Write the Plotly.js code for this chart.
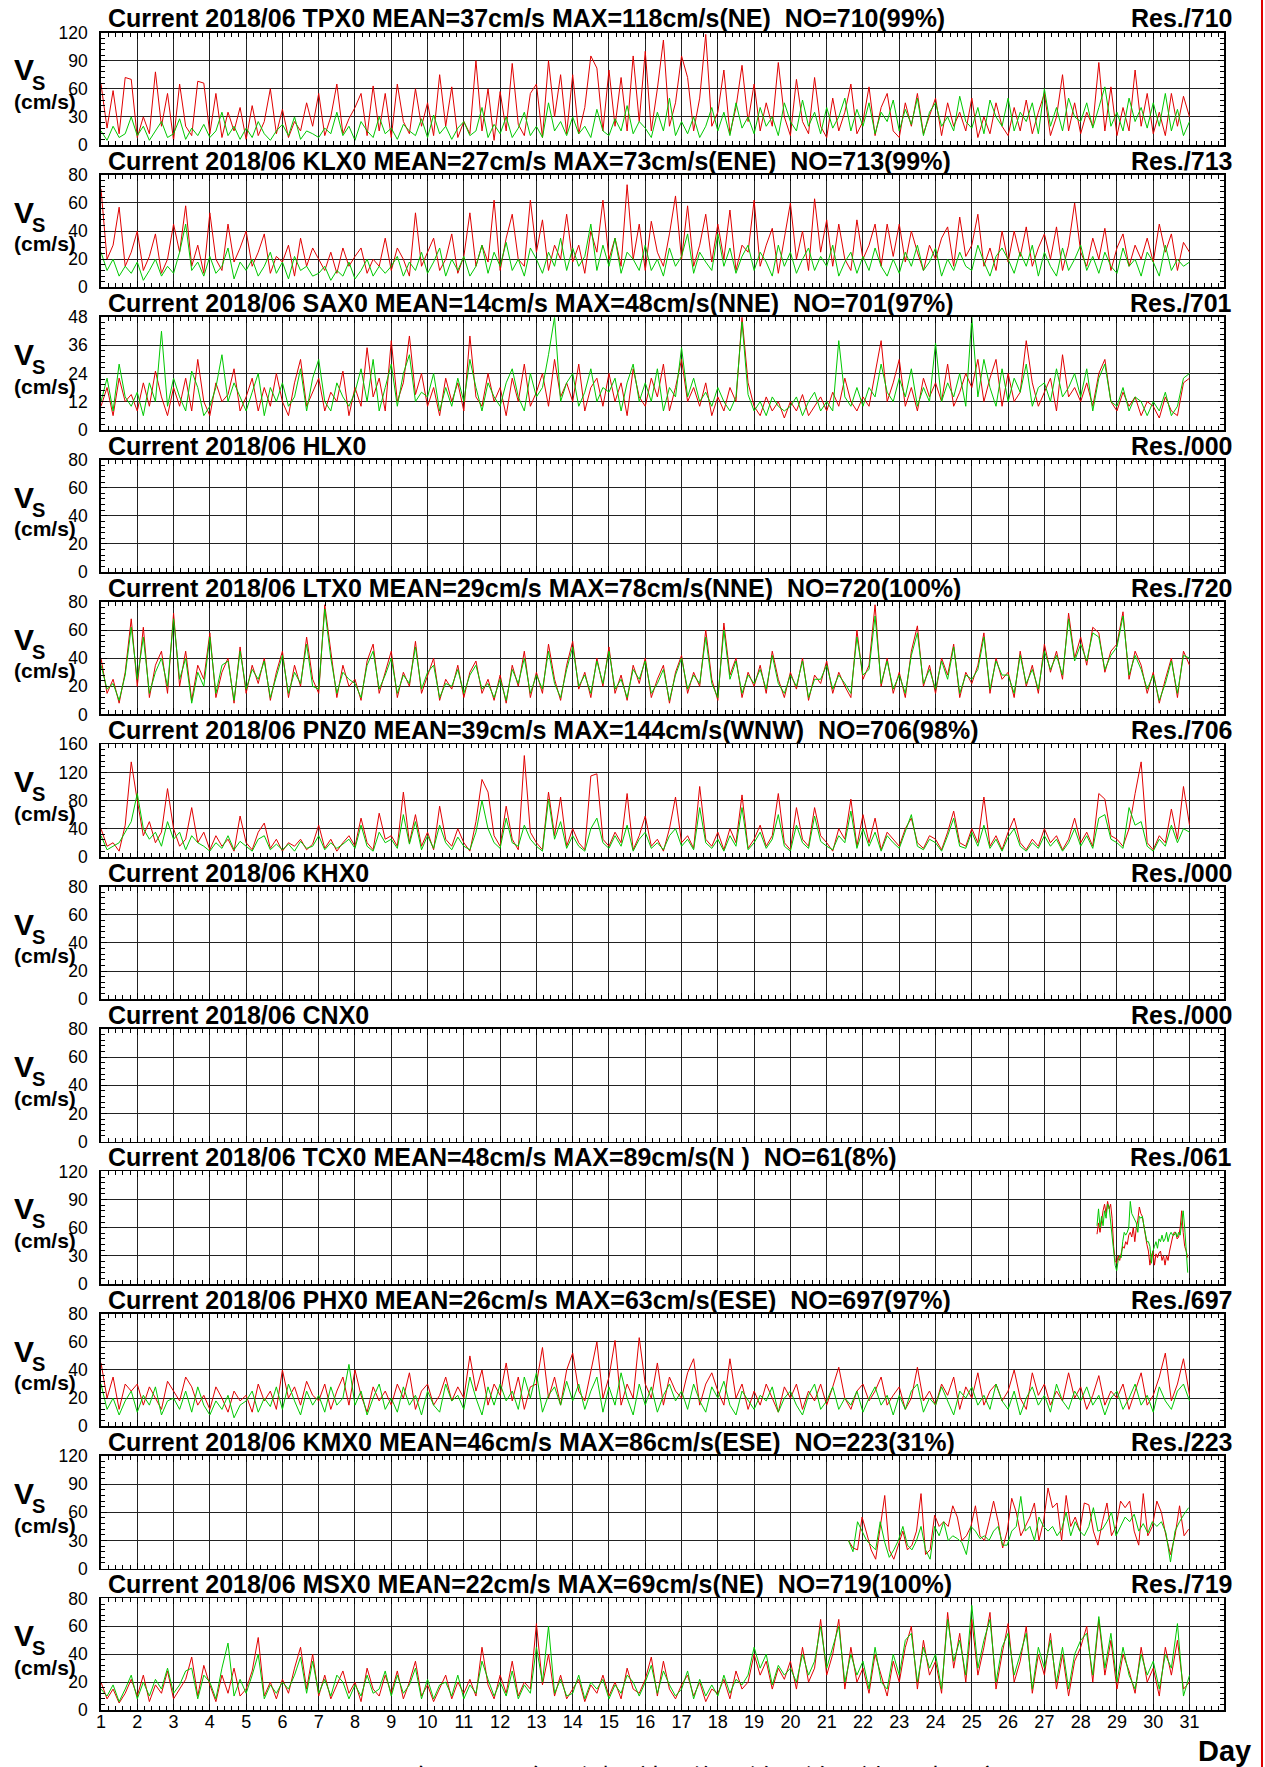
<!DOCTYPE html>
<html><head><meta charset="utf-8">
<script src="https://cdn.plot.ly/plotly-3.0.1.min.js"></script>
<style>html,body{margin:0;padding:0;background:#fff;}#chart{width:1265px;height:1767px;}</style>
</head><body><div id="chart"></div>
<script>
// ---- data (cm/s), full-month series sampled every 4 h starting day 1.0 ----
const tpxRed = [
65,18,58,12,72,70, 8,30,12,78,20,55, 5,65,20,10,68,66, 12,55,8,35,15,40, 6,42,10,25,60,12,
38,8,25,15,45,20, 55,10,30,65,12,28, 40,55,10,63,15,55, 8,65,25,12,60,20, 45,10,75,20,62,8,
25,12,90,15,60,5, 57,15,87,22,10,55, 65,8,90,30,75,12, 75,12,40,95,82,15, 80,20,72,15,95,25,
100,15,60,112,20,45, 95,72,15,50,118,20, 35,80,12,40,85,25, 65,15,45,20,88,30, 10,70,25,12,72,20,
8,50,15,35,65,12, 25,62,10,40,55,15, 8,45,20,55,12,30, 50,10,45,20,35,15, 50,8,30,12,45,20,
10,40,15,48,12,35, 55,10,30,75,15,45, 12,35,20,88,15,62, 10,40,15,80,20,55, 12,35,10,55,20,52, 30];
const tpxGreen = [
15,5,20,8,12,30, 10,20,5,15,25,8, 12,28,6,18,10,22, 8,15,35,10,20,6, 18,8,25,12,5,15,
22,10,30,6,15,12, 8,18,12,35,10,20, 5,25,15,8,30,12, 18,6,22,15,10,28, 8,32,12,20,6,18,
25,10,15,40,8,22, 12,30,8,18,35,10, 20,8,45,15,25,10, 30,12,20,8,38,15, 10,28,15,42,12,25,
18,8,35,15,50,10, 25,12,30,8,20,40, 15,35,10,45,18,30, 12,40,20,30,10,45, 25,15,48,20,35,12,
40,18,30,50,15,38, 20,45,12,35,25,48, 15,38,22,50,10,35, 45,20,30,15,52,25, 18,40,12,48,30,20,
50,15,35,25,45,12, 60,20,40,15,50,30, 25,45,18,40,62,20, 35,15,50,25,40,18, 45,20,55,15,38,10, 25];
const klxRed = [
70,20,30,57,15,25, 40,12,22,38,10,20, 45,25,58,15,30,10, 53,20,12,45,18,28, 40,15,25,38,10,22,
18,30,8,35,15,28, 20,12,25,10,28,15, 22,28,10,20,15,35, 12,28,20,8,53,15, 25,35,12,20,38,10,
22,53,15,30,18,62, 12,35,52,20,15,62, 25,48,12,30,20,52, 18,30,10,40,25,62, 20,35,15,73,20,45,
12,47,25,15,38,65, 20,58,15,30,52,18, 45,20,55,12,30,25, 62,15,30,42,10,35, 60,20,40,12,63,25,
48,15,45,20,12,48, 20,30,45,15,45,22, 45,18,40,25,12,30, 20,35,43,15,50,22, 30,52,15,28,12,40,
18,40,22,43,15,28, 38,20,43,12,30,60, 25,15,35,20,42,12, 28,38,15,30,20,35, 18,45,25,38,12,32, 25];
const klxGreen = [
25,12,20,8,15,10, 18,5,12,20,8,15, 10,25,45,12,18,8, 22,10,15,28,6,18, 12,20,8,15,25,10,
18,6,22,12,15,8, 10,15,5,12,8,18, 6,12,20,8,15,10, 15,22,8,18,12,25, 10,18,28,8,20,12,
22,8,15,30,10,25, 15,32,12,20,8,28, 20,10,25,15,35,12, 28,15,22,45,12,30, 15,35,10,25,20,12,
30,12,20,8,28,15, 22,38,10,25,18,12, 38,15,28,10,22,30, 12,25,18,8,30,15, 25,10,20,28,12,22,
15,30,8,18,25,10, 22,12,28,15,8,20, 10,25,15,30,12,18, 28,8,20,12,25,15, 12,30,18,8,22,28,
20,10,25,15,30,8, 25,15,8,28,12,20, 30,12,22,10,25,15, 10,28,15,20,8,25, 18,8,30,12,20,15, 18];
const saxRed = [
10,18,6,22,12,15, 8,20,10,25,14,6, 18,10,22,8,30,12, 6,20,12,15,26,8, 14,22,8,18,10,24,
12,6,20,30,10,16, 22,8,16,12,25,6, 18,10,35,14,22,8, 38,12,20,40,15,24, 10,18,6,22,12,20,
8,40,14,10,24,12, 18,6,22,12,28,10, 16,24,10,30,14,20, 12,28,8,18,22,10, 24,12,20,6,26,14,
10,22,14,28,8,18, 30,12,18,10,20,6, 14,8,18,12,48,20, 10,6,14,8,12,5, 12,8,15,6,10,14,
8,16,10,22,12,8, 14,10,24,38,12,20, 30,10,18,8,22,14, 20,12,28,10,16,24, 18,30,12,22,30,10,
24,12,16,38,20,10, 16,22,8,32,14,18, 12,20,10,24,30,12, 8,16,10,14,6,12, 10,5,14,8,6,20, 22];
const saxGreen = [
12,22,8,28,14,10, 16,6,20,12,42,10, 22,14,8,25,18,6, 10,18,32,12,20,14, 8,16,24,6,18,12,
20,10,14,26,8,22, 30,12,8,20,14,10, 16,26,12,30,8,18, 28,10,24,32,12,16, 14,24,8,18,10,22,
12,30,18,8,20,14, 10,20,26,14,8,24, 14,18,32,48,12,20, 24,10,16,26,12,18, 16,22,8,20,28,12,
20,12,26,8,18,14, 35,14,22,12,16,10, 18,12,8,14,46,15, 8,12,6,14,10,8, 10,14,6,12,16,8,
12,8,38,14,10,18, 10,18,14,28,16,12, 22,14,26,10,18,12, 37,12,20,14,24,10, 48,14,30,18,10,26,
12,22,16,28,10,18, 20,12,26,14,18,24, 14,26,8,22,28,12, 10,18,8,14,12,6, 12,8,16,6,10,22, 24];
const ltxRed = [
40,15,25,8,30,68, 20,62,12,35,45,15, 72,20,45,10,35,25, 58,12,30,40,8,48, 15,35,22,40,10,30,
45,12,35,20,55,25, 15,78,45,12,35,20, 25,10,38,50,15,30, 45,12,30,20,52,15, 28,40,10,25,18,35,
12,30,38,15,25,10, 28,8,35,20,45,12, 30,15,50,25,10,35, 52,18,30,12,40,20, 48,15,28,10,35,22,
40,12,25,35,8,30, 42,15,30,20,60,25, 10,65,28,40,12,30, 20,35,15,45,25,12, 30,18,40,10,28,22,
38,15,30,20,12,60, 25,35,78,20,40,15, 30,12,45,63,20,35, 15,40,28,50,12,30, 22,35,58,15,40,25,
30,12,45,20,35,15, 50,30,45,25,72,40, 55,35,62,58,30,45, 50,73,25,45,35,15, 30,8,25,40,12,45, 35];
const ltxGreen = [
35,18,22,10,28,62, 25,55,15,30,40,20, 68,25,40,8,30,20, 55,15,35,38,10,45, 18,32,25,38,12,28,
42,15,30,22,50,20, 18,75,40,15,30,25, 22,12,35,45,18,28, 40,15,28,22,48,18, 30,35,12,22,20,32,
15,28,35,18,22,12, 25,10,32,22,40,15, 28,18,45,22,12,32, 48,20,28,15,38,22, 45,18,25,12,32,25,
38,15,22,32,10,28, 40,18,28,22,55,22, 12,60,25,38,15,28, 22,32,18,42,22,15, 28,20,38,12,25,25,
35,18,28,22,15,55, 28,32,70,22,38,18, 28,15,42,58,22,32, 18,38,25,48,15,28, 25,32,55,18,38,28,
28,15,42,22,32,18, 45,32,42,28,68,38, 50,38,58,55,32,42, 48,70,28,42,32,18, 28,10,22,38,15,42, 40];
const pnzRed = [
40,15,20,8,45,135, 80,30,50,20,35,97, 40,15,25,70,20,35, 10,30,15,25,8,58, 20,10,35,48,12,25,
8,20,15,25,10,18, 45,12,25,8,20,30, 15,55,20,10,62,25, 30,15,92,20,60,15, 35,10,72,25,15,40,
20,8,50,110,92,30, 15,72,25,10,144,35, 20,10,92,30,85,15, 40,20,10,115,118,25, 15,35,20,90,10,30,
58,15,25,8,40,85, 20,30,12,100,25,15, 35,10,40,20,88,12, 25,45,15,30,90,20, 10,70,25,15,70,30,
20,8,40,25,82,15, 60,20,55,10,35,25, 15,40,55,20,12,30, 25,10,35,65,20,15, 40,20,85,15,30,10,
35,55,20,10,25,15, 40,20,30,10,25,55, 20,35,15,90,82,30, 25,15,40,90,135,20, 10,30,20,68,25,100, 45];
const pnzGreen = [
30,10,15,20,35,50, 90,40,25,35,15,50, 25,35,10,30,20,15, 8,20,12,30,10,22, 15,8,25,30,10,18,
10,18,8,22,12,15, 30,10,20,12,18,25, 12,45,15,8,35,20, 25,12,60,18,50,10, 30,12,45,20,10,28,
15,10,35,80,40,20, 12,55,20,15,45,25, 15,8,82,25,50,12, 30,15,8,40,55,20, 12,30,15,45,8,25,
35,12,20,10,30,40, 15,25,10,70,20,12, 25,8,30,15,70,10, 20,35,12,25,60,15, 8,45,20,12,58,22,
15,10,30,20,65,12, 40,15,35,8,30,20, 12,35,60,15,10,25, 20,8,30,55,15,12, 35,15,45,12,25,8,
28,40,15,8,20,12, 30,15,25,8,20,40, 15,30,12,55,60,25, 20,12,70,45,50,15, 8,25,15,45,20,40, 35];
const phxRed = [
45,20,35,12,30,25, 30,15,28,20,12,32, 25,18,35,28,15,22, 12,28,20,10,25,18, 22,10,30,18,25,12,
40,20,28,15,32,22, 18,30,12,25,35,15, 40,22,10,28,18,25, 15,30,20,38,12,25, 30,15,22,35,18,28,
20,50,25,40,15,30, 22,45,18,35,12,28, 30,56,20,35,15,40, 52,25,18,40,60,20, 35,61,15,30,20,63,
30,20,45,15,35,25, 20,38,48,15,30,38, 25,15,48,20,30,12, 25,15,30,20,10,28, 20,30,12,25,18,30,
15,28,42,20,12,25, 30,18,25,35,15,22, 28,12,20,42,18,25, 15,30,22,35,12,28, 20,38,15,25,30,18,
25,40,20,12,38,22, 30,15,25,18,38,20, 28,12,22,36,15,25, 20,30,12,25,38,15, 22,35,52,18,30,48, 22];
const phxGreen = [
30,12,20,8,18,25, 10,22,15,28,8,18, 20,12,25,10,28,15, 8,18,12,22,6,15, 18,25,10,20,14,28,
12,30,18,8,25,15, 22,10,28,15,20,44, 15,25,8,20,30,12, 20,10,28,15,22,8, 25,15,10,30,18,22,
12,35,20,8,28,15, 30,18,25,12,35,20, 38,10,22,28,15,32, 18,30,12,25,35,10, 28,15,38,20,8,30,
15,28,10,22,30,18, 25,12,30,18,10,28, 20,32,15,8,25,18, 12,22,18,28,10,20, 25,15,8,22,30,12,
18,28,12,20,15,25, 10,20,28,15,22,8, 22,12,25,30,10,20, 15,28,18,8,25,20, 28,15,22,12,30,18,
12,25,8,20,28,15, 22,10,30,18,12,25, 18,28,15,22,8,20, 25,12,20,30,15,22, 10,28,18,12,25,30, 18];
const msxRed = [
20,8,15,5,12,22, 10,25,6,18,12,28, 8,15,22,38,10,32, 18,6,25,12,30,10, 15,28,52,10,20,8,
22,12,30,45,15,40, 10,25,8,18,28,12, 20,6,30,15,10,25, 12,28,8,20,35,10, 18,6,15,25,8,20,
12,22,10,45,18,8, 25,12,35,10,20,15, 62,18,40,10,25,8, 15,22,6,18,12,25, 10,20,8,30,15,12,
22,38,10,35,15,8, 18,25,10,20,6,15, 12,22,8,28,15,20, 40,25,35,15,30,22, 35,15,45,20,30,65,
25,40,65,15,45,20, 30,12,40,25,10,35, 20,45,60,15,50,25, 35,12,70,30,55,20, 65,25,45,70,15,40,
62,20,35,60,12,40, 25,55,15,40,10,35, 45,60,20,65,25,50, 15,40,28,12,45,20, 30,10,45,25,50,15, 20];
const msxGreen = [
15,10,18,6,15,25, 8,20,10,22,15,30, 12,18,28,30,8,25, 20,8,30,48,10,22, 12,25,40,8,18,12,
20,15,25,38,12,35, 12,22,10,25,20,8, 18,10,25,12,15,28, 10,25,12,18,30,8, 22,8,18,20,10,25,
8,18,12,35,22,10, 20,10,28,8,18,12, 45,20,60,12,22,10, 12,25,8,20,15,22, 8,18,12,25,20,10,
20,32,12,28,18,10, 15,28,8,22,10,18, 10,25,12,22,18,25, 45,30,40,18,32,25, 30,20,40,25,35,60,
30,45,60,20,40,25, 35,15,45,20,15,40, 25,50,55,20,45,30, 40,15,65,35,50,25, 75,30,50,65,20,45,
55,25,40,55,15,45, 30,50,20,45,15,40, 50,55,25,67,30,55, 20,45,25,15,40,25, 35,15,40,30,62,10, 25];
// partial records
const tcxRed = [53,65,55,68,78,85,75,88,80,85,70,40,25,22,30,25,33,40,38,45,42,52,55,50,60,45,60,68,82,75,
72,62,48,42,35,20,30,35,20,32,28,33,35,25,30,20,30,25,35,45,50,55,55,48,50,60,78,55,40,35,28];
const tcxGreen = [62,80,60,72,62,78,70,85,82,65,50,35,20,14,25,30,28,45,55,52,55,60,88,75,72,68,65,55,72,70,
72,62,55,45,45,40,22,35,40,45,38,48,45,52,45,48,55,45,52,55,52,52,55,50,55,52,65,78,60,40,12];
const kmxRed = [30,22,20,55,38,20,10,45,78,20,10,25,40,20,25,40,80,15,20,57,45,50,45,67,55,30,35,45,67,35,
30,50,72,50,22,40,75,60,35,45,55,70,30,50,86,65,70,30,78,45,55,40,70,68,40,25,50,70,35,45,
72,65,72,40,25,80,35,45,72,60,35,15,35,67,35,42];
const kmxGreen = [30,18,50,40,30,25,20,50,28,12,20,30,45,25,20,30,45,20,10,45,35,50,30,35,32,28,15,45,40,32,
35,30,40,45,25,25,40,45,77,40,45,30,55,45,40,45,35,42,60,35,50,40,35,45,65,40,42,50,60,35,
45,55,50,58,40,48,38,50,45,50,38,7,40,50,58,65];

const stationNames = ['TPX0','KLX0','SAX0','HLX0','LTX0','PNZ0','KHX0','CNX0','TCX0','PHX0','KMX0','MSX0'];
const statText = [
 'MEAN=37cm/s MAX=118cm/s(NE)\u00a0 NO=710(99%)',
 'MEAN=27cm/s MAX=73cm/s(ENE)\u00a0 NO=713(99%)',
 'MEAN=14cm/s MAX=48cm/s(NNE)\u00a0 NO=701(97%)',
 '',
 'MEAN=29cm/s MAX=78cm/s(NNE)\u00a0 NO=720(100%)',
 'MEAN=39cm/s MAX=144cm/s(WNW)\u00a0 NO=706(98%)',
 '', '',
 'MEAN=48cm/s MAX=89cm/s(N\u00a0)\u00a0 NO=61(8%)',
 'MEAN=26cm/s MAX=63cm/s(ESE)\u00a0 NO=697(97%)',
 'MEAN=46cm/s MAX=86cm/s(ESE)\u00a0 NO=223(31%)',
 'MEAN=22cm/s MAX=69cm/s(NE)\u00a0 NO=719(100%)'];
const resText = ['710','713','701','000','720','706','000','000','061','697','223','719'];
const yMax = [120,80,48,80,80,160,80,80,120,80,120,80];
const yStep = [30,20,12,20,20,40,20,20,30,20,30,20];
const redSeries = [tpxRed,klxRed,saxRed,null,ltxRed,pnzRed,null,null,tcxRed,phxRed,kmxRed,msxRed];
const greenSeries = [tpxGreen,klxGreen,saxGreen,null,ltxGreen,pnzGreen,null,null,tcxGreen,phxGreen,kmxGreen,msxGreen];
const startDay = [1,1,1,1,1,1,1,1,28.45,1,21.6,1];
const stepDay = [4/24,4/24,4/24,4/24,4/24,4/24,4/24,4/24,1/24,4/24,3/24,4/24];
const captionText = '圖 4.2　2018 年 6 月　各　測　站　海　流　流　速　時　序　圖';

// ---- layout geometry ----
const W = 1265, Hpx = 1767;
const M = {l:101, r:41, t:32, b:57};
const plotW = W - M.l - M.r, plotH = Hpx - M.t - M.b;
const PITCH = 142.36, PH = 112.5, TOP0 = 0.5;
const FONT = 'Liberation Sans, Arial, Helvetica, sans-serif';
const px2x = p => (p - M.l) / plotW;
const py2y = p => 1 - (p - M.t) / plotH;

const traces = [];
const layout = {
  width: W, height: Hpx, margin: M, showlegend: false,
  paper_bgcolor: '#fff', plot_bgcolor: '#fff',
  font: {family: FONT, color: '#000'},
  annotations: [], shapes: []
};

for (let i = 0; i < 12; i++) {
  const n = i + 1, sfx = n === 1 ? '' : String(n);
  const topPx = M.t + TOP0 + i * PITCH;
  const d0 = Math.max(0, py2y(topPx + PH)), d1 = Math.min(1, py2y(topPx));
  const xa = 'x' + sfx, ya = 'y' + sfx;
  layout['xaxis' + sfx] = {
    domain: [0, 1], anchor: ya, range: [1, 31.95], tick0: 1, dtick: 1,
    showgrid: true, gridcolor: '#222', gridwidth: 1, zeroline: false,
    ticks: 'inside', ticklen: 6, tickcolor: '#000', tickwidth: 1,
    showline: true, linecolor: '#000', linewidth: 1.8, mirror: 'allticks',
    showticklabels: n === 12, tickfont: {size: 18, color: '#000', family: FONT},
    ticklabelstandoff: -5,
    minor: {tick0: 1, dtick: 0.2, ticks: 'inside', ticklen: 4, tickcolor: '#000', tickwidth: 1, showgrid: false},
    fixedrange: true
  };
  layout['yaxis' + sfx] = {
    domain: [d0, d1], anchor: xa, range: [0, yMax[i]], tick0: 0, dtick: yStep[i],
    showgrid: true, gridcolor: '#222', gridwidth: 1, zeroline: false,
    ticks: 'inside', ticklen: 6, tickcolor: '#000', tickwidth: 1,
    showline: true, linecolor: '#000', linewidth: 1.8, mirror: 'allticks',
    tickfont: {size: 17.5, color: '#000', family: FONT}, ticklabelstandoff: 8,
    minor: {tick0: 0, dtick: yStep[i] / 5, ticks: 'inside', ticklen: 4, tickcolor: '#000', tickwidth: 1, showgrid: false},
    fixedrange: true
  };
  const mk = (arr, color) => ({
    type: 'scatter', mode: 'lines', xaxis: xa, yaxis: ya,
    x: arr ? arr.map((_, k) => startDay[i] + k * stepDay[i]) : [],
    y: arr ? arr : [],
    line: {color: color, width: 1}, hoverinfo: 'skip', cliponaxis: true
  });
  traces.push(mk(redSeries[i], '#e00000'));
  traces.push(mk(greenSeries[i], '#00c800'));

  // panel title and resolution
  const title = 'Current 2018/06 ' + stationNames[i] + (statText[i] ? ' ' + statText[i] : '');
  layout.annotations.push({xref: 'paper', yref: 'paper', x: px2x(106), y: py2y(topPx - 14),
    xanchor: 'left', yanchor: 'middle', text: '<b>' + title + '</b>', showarrow: false,
    font: {size: 25, family: FONT, color: '#000'}});
  layout.annotations.push({xref: 'paper', yref: 'paper', x: px2x(1234), y: py2y(topPx - 14),
    xanchor: 'right', yanchor: 'middle', text: '<b>Res./' + resText[i] + '</b>', showarrow: false,
    font: {size: 25, family: FONT, color: '#000'}});
  // y-axis label  V_S (cm/s)
  layout.annotations.push({xref: 'paper', yref: 'paper', x: px2x(24), y: py2y(topPx + 37.5),
    xanchor: 'center', yanchor: 'middle', text: '<b>V</b>', showarrow: false,
    font: {size: 30, family: FONT, color: '#000'}});
  layout.annotations.push({xref: 'paper', yref: 'paper', x: px2x(38), y: py2y(topPx + 50),
    xanchor: 'center', yanchor: 'middle', text: '<b>S</b>', showarrow: false,
    font: {size: 20, family: FONT, color: '#000'}});
  layout.annotations.push({xref: 'paper', yref: 'paper', x: px2x(45), y: py2y(topPx + 69),
    xanchor: 'center', yanchor: 'middle', text: '<b>(cm/s)</b>', showarrow: false,
    font: {size: 21, family: FONT, color: '#000'}});
}

layout.annotations.push({xref: 'paper', yref: 'paper', x: px2x(1253), y: py2y(1751),
  xanchor: 'right', yanchor: 'middle', text: '<b>Day</b>', showarrow: false,
  font: {size: 29, family: FONT, color: '#000'}});

// figure caption (only its top edge falls inside the page, as in the source)
layout.annotations.push({xref: 'paper', yref: 'paper', x: px2x(650), y: py2y(1755.5),
  xanchor: 'center', yanchor: 'top', text: captionText, showarrow: false,
  font: {size: 28, family: 'Noto Sans CJK TC, Noto Sans CJK SC, sans-serif', color: '#000'}});

layout.shapes.push({type: 'line', xref: 'paper', yref: 'paper',
  x0: px2x(1262), x1: px2x(1262), y0: py2y(0), y1: py2y(Hpx),
  line: {color: '#e00000', width: 2}});

Plotly.newPlot('chart', traces, layout, {staticPlot: true, displayModeBar: false});
</script>
</body></html>
